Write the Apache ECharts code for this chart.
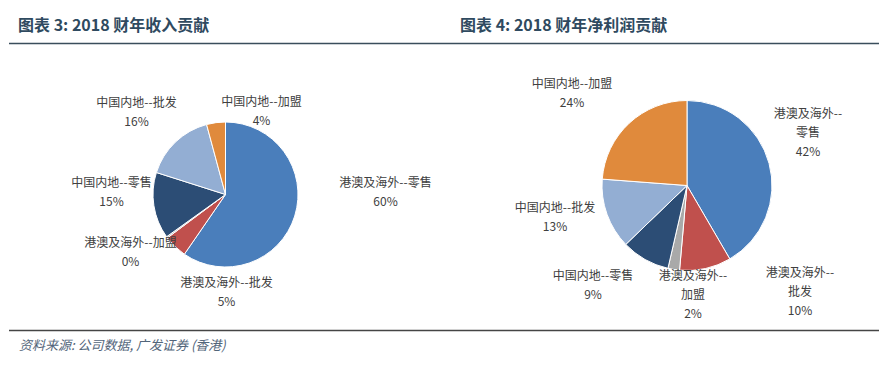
<!DOCTYPE html>
<html>
<head>
<meta charset="utf-8">
<script src="https://cdn.jsdelivr.net/npm/echarts@6/dist/echarts.min.js"></script>
<style>
html,body{margin:0;padding:0;background:#fff;}
#chart{width:880px;height:372px;}
</style>
</head>
<body>
<div id="chart"></div>
<script>
// ---- data ----
const categories = ['港澳及海外--零售', '港澳及海外--批发', '港澳及海外--加盟', '中国内地--零售', '中国内地--批发', '中国内地--加盟'];
const revenueShare = [59.6, 5.2, 0.3, 14.8, 15.9, 4.2];   // FY2018 revenue contribution (%)
const profitShare = [41.6, 9.8, 2.2, 9.2, 13.4, 23.8];    // FY2018 net profit contribution (%)
const titles = ['图表 3: 2018 财年收入贡献', '图表 4: 2018 财年净利润贡献'];
const sourceNote = '资料来源: 公司数据, 广发证券 (香港)';

// ---- style ----
const colors = ['#4a7ebb', '#c0504d', '#a9a9a9', '#2c4d75', '#93aed3', '#e08a3c'];
const FONT = '"Noto Sans CJK SC", "Noto Sans", sans-serif';
const pies = [
  { center: [225.5, 194.5], radius: 72.5,
    labelOffsets: [[160, -4], [1, 96], [-95, 56], [-114, -4], [-89, -84], [36, -85]],
    wrap: false },
  { center: [687, 185.5], radius: 85,
    labelOffsets: [[121, -54], [113, 105], [6, 108], [-94, 98], [-132, 30], [-115, -94]],
    wrap: true }
];

const chart = echarts.init(document.getElementById('chart'), null, { renderer: 'svg' });

function makeSeries(values, idx) {
  const p = pies[idx];
  return {
    type: 'pie',
    center: p.center,
    radius: p.radius,
    startAngle: 90,
    clockwise: true,
    percentPrecision: 0,
    avoidLabelOverlap: false,
    animation: false,
    silent: true,
    data: categories.map((c, i) => ({ name: c, value: values[i] })),
    itemStyle: { borderColor: '#ffffff', borderWidth: 1 },
    label: {
      show: true,
      position: 'outside',
      fontFamily: FONT,
      fontSize: 12,
      color: '#404040',
      lineHeight: 19,
      align: 'center',
      formatter: function (prm) {
        let n = prm.name;
        if (p.wrap && n.indexOf('港澳及海外--') === 0) {
          n = '港澳及海外--\n' + n.slice('港澳及海外--'.length);
        }
        return n + '\n' + prm.percent + '%';
      }
    },
    labelLine: { show: false },
    labelLayout: function (prm) {
      const off = p.labelOffsets[prm.dataIndex];
      return { x: p.center[0] + off[0], y: p.center[1] + off[1], align: 'center', verticalAlign: 'middle' };
    }
  };
}

chart.setOption({
  backgroundColor: '#ffffff',
  color: colors,
  textStyle: { fontFamily: FONT },
  series: [makeSeries(revenueShare, 0), makeSeries(profitShare, 1)],
  graphic: [
    { type: 'text', left: 18, top: 16, silent: true,
      style: { text: titles[0], font: 'bold 16px ' + FONT, fill: '#2f4a60' } },
    { type: 'text', left: 460, top: 16, silent: true,
      style: { text: titles[1], font: 'bold 16px ' + FONT, fill: '#2f4a60' } },
    { type: 'line', silent: true, shape: { x1: 9, y1: 43.5, x2: 879, y2: 43.5 },
      style: { stroke: '#3a4e5c', lineWidth: 1.5 } },
    { type: 'line', silent: true, shape: { x1: 9, y1: 330.5, x2: 879, y2: 330.5 },
      style: { stroke: '#454545', lineWidth: 1.5 } },
    { type: 'text', left: 19, top: 338, silent: true,
      style: { text: sourceNote, font: 'italic 13px ' + FONT, fill: '#52657a' } }
  ]
});
</script>
</body>
</html>
